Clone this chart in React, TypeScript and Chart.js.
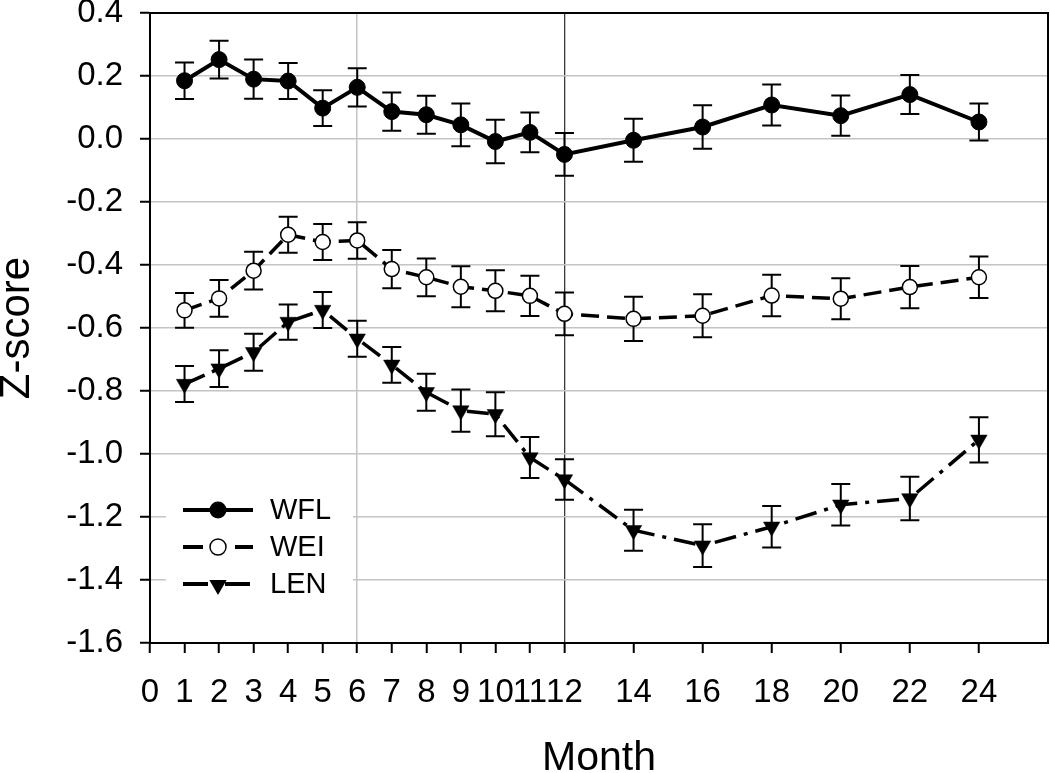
import React, { useEffect, useRef } from "react";
import { Chart, registerables } from "chart.js";

Chart.register(...registerables);

const months = [1, 2, 3, 4, 5, 6, 7, 8, 9, 10, 11, 12, 14, 16, 18, 20, 22, 24];
const xTicks = [0, 1, 2, 3, 4, 5, 6, 7, 8, 9, 10, 11, 12, 14, 16, 18, 20, 22, 24];
const yTicks = [0.4, 0.2, 0.0, -0.2, -0.4, -0.6, -0.8, -1.0, -1.2, -1.4, -1.6];

const wflMean = [0.185, 0.252, 0.19, 0.184, 0.098, 0.164, 0.087, 0.077, 0.045, -0.008, 0.021, -0.049, -0.004, 0.038, 0.108, 0.074, 0.141, 0.054];
const wflErr = [0.058, 0.06, 0.062, 0.057, 0.057, 0.061, 0.061, 0.06, 0.068, 0.069, 0.063, 0.068, 0.068, 0.069, 0.065, 0.064, 0.062, 0.059];
const weiMean = [-0.544, -0.506, -0.418, -0.304, -0.327, -0.322, -0.413, -0.439, -0.469, -0.482, -0.498, -0.555, -0.571, -0.561, -0.497, -0.507, -0.47, -0.439];
const weiErr = [0.055, 0.058, 0.06, 0.057, 0.057, 0.058, 0.061, 0.06, 0.065, 0.065, 0.064, 0.068, 0.07, 0.068, 0.066, 0.065, 0.067, 0.066];
const lenMean = [-0.778, -0.729, -0.677, -0.581, -0.543, -0.634, -0.717, -0.804, -0.862, -0.874, -1.011, -1.081, -1.242, -1.291, -1.231, -1.161, -1.141, -0.955];
const lenErr = [0.057, 0.058, 0.059, 0.056, 0.057, 0.057, 0.057, 0.059, 0.067, 0.07, 0.065, 0.064, 0.065, 0.068, 0.066, 0.066, 0.069, 0.072];

const seriesNames = ["WFL", "WEI", "LEN"];
const seriesMeans = [wflMean, weiMean, lenMean];
const seriesErrs = [wflErr, weiErr, lenErr];

const FONT = "'Liberation Sans', Arial, sans-serif";
const GRID = "#c4c4c4";

const errorBarsPlugin = {
  id: "errorBars",
  beforeDatasetsDraw(chart: any) {
    const { ctx } = chart;
    const x = chart.scales.x;
    const y = chart.scales.y;
    ctx.save();
    ctx.strokeStyle = "#000";
    ctx.lineWidth = 2;
    seriesMeans.forEach((means, i) => {
      const errs = seriesErrs[i];
      months.forEach((m, j) => {
        const px = x.getPixelForValue(m);
        const top = y.getPixelForValue(means[j] + errs[j]);
        const bot = y.getPixelForValue(means[j] - errs[j]);
        ctx.beginPath();
        ctx.moveTo(px, top);
        ctx.lineTo(px, bot);
        ctx.moveTo(px - 9.5, top);
        ctx.lineTo(px + 9.5, top);
        ctx.moveTo(px - 9.5, bot);
        ctx.lineTo(px + 9.5, bot);
        ctx.stroke();
      });
    });
    ctx.restore();
  },
};

function drawMarker(ctx: CanvasRenderingContext2D, kind: number, cx: number, cy: number) {
  ctx.save();
  ctx.strokeStyle = "#000";
  ctx.setLineDash([]);
  if (kind === 0) {
    ctx.fillStyle = "#000";
    ctx.beginPath();
    ctx.arc(cx, cy, 8.5, 0, Math.PI * 2);
    ctx.fill();
  } else if (kind === 1) {
    ctx.fillStyle = "#fff";
    ctx.lineWidth = 1.5;
    ctx.beginPath();
    ctx.arc(cx, cy, 8, 0, Math.PI * 2);
    ctx.fill();
    ctx.stroke();
  } else {
    const r = 10;
    ctx.fillStyle = "#000";
    ctx.beginPath();
    ctx.moveTo(cx, cy + r);
    ctx.lineTo(cx - r * Math.sin(Math.PI / 3), cy - r / 2);
    ctx.lineTo(cx + r * Math.sin(Math.PI / 3), cy - r / 2);
    ctx.closePath();
    ctx.fill();
  }
  ctx.restore();
}

const insideLegendPlugin = {
  id: "insideLegend",
  afterDatasetsDraw(chart: any) {
    const { ctx, chartArea } = chart;
    const L = chartArea.left;
    ctx.save();
    ctx.fillStyle = "#fff";
    ctx.fillRect(L + 16, 484, 187, 122);
    ctx.lineWidth = 4;
    ctx.strokeStyle = "#000";
    ctx.lineCap = "butt";
    const x0 = L + 33;
    const x1 = L + 103;
    const mx = L + 68;
    seriesNames.forEach((name, i) => {
      const cy = 510 + i * 37;
      ctx.beginPath();
      if (i === 0) {
        ctx.moveTo(x0, cy);
        ctx.lineTo(x1, cy);
      } else if (i === 1) {
        ctx.moveTo(x0, cy);
        ctx.lineTo(x0 + 20, cy);
        ctx.moveTo(x1 - 18, cy);
        ctx.lineTo(x1, cy);
      } else {
        ctx.moveTo(x0, cy);
        ctx.lineTo(x0 + 25, cy);
        ctx.moveTo(x1 - 28, cy);
        ctx.lineTo(x1 - 3, cy);
      }
      ctx.stroke();
      drawMarker(ctx, i, mx, cy + (i === 2 ? 1 : 0));
      ctx.fillStyle = "#000";
      ctx.font = `29px ${FONT}`;
      ctx.textBaseline = "middle";
      ctx.textAlign = "left";
      ctx.fillText(name, L + 120, cy + 1);
    });
    ctx.restore();
  },
};

const framePlugin = {
  id: "frame",
  afterDraw(chart: any) {
    const { ctx, chartArea } = chart;
    ctx.save();
    ctx.strokeStyle = "#000";
    ctx.lineWidth = 2;
    ctx.strokeRect(chartArea.left, chartArea.top, chartArea.right - chartArea.left, chartArea.bottom - chartArea.top);
    ctx.restore();
  },
};

export default function App() {
  const canvasRef = useRef<HTMLCanvasElement | null>(null);

  useEffect(() => {
    if (!canvasRef.current) return;
    const toPts = (arr: number[]) => months.map((m, i) => ({ x: m, y: arr[i] }));
    const chart = new Chart(canvasRef.current, {
      type: "line",
      data: {
        datasets: [
          {
            label: seriesNames[0],
            data: toPts(wflMean),
            borderColor: "#000",
            borderWidth: 4,
            pointStyle: "circle",
            pointRadius: 8,
            pointBorderWidth: 1,
            pointBackgroundColor: "#000",
            pointBorderColor: "#000",
            tension: 0,
          },
          {
            label: seriesNames[1],
            data: toPts(weiMean),
            borderColor: "#000",
            borderWidth: 3.5,
            borderDash: [18, 8],
            pointStyle: "circle",
            pointRadius: 7.5,
            pointBorderWidth: 1.5,
            pointBackgroundColor: "#fff",
            pointBorderColor: "#000",
            tension: 0,
          },
          {
            label: seriesNames[2],
            data: toPts(lenMean),
            borderColor: "#000",
            borderWidth: 3.5,
            borderDash: [22, 8, 4, 8],
            pointStyle: "triangle",
            rotation: 180,
            pointRotation: 180,
            pointRadius: 9.5,
            pointBorderWidth: 0.5,
            pointBackgroundColor: "#000",
            pointBorderColor: "#000",
            tension: 0,
          },
        ],
      },
      options: {
        animation: false,
        responsive: false,
        maintainAspectRatio: false,
        layout: { autoPadding: false, padding: { left: 0, right: 2, top: 13, bottom: 0 } },
        plugins: {
          legend: { display: false },
          tooltip: { enabled: false },
        },
        scales: {
          x: {
            type: "linear",
            min: 0,
            max: 26,
            afterBuildTicks: (s: any) => {
              s.ticks = xTicks.map((v) => ({ value: v }));
            },
            afterFit: (s: any) => {
              s.height = 130;
              s.paddingLeft = 0;
              s.paddingRight = 0;
            },
            ticks: {
              autoSkip: false,
              maxRotation: 0,
              color: "#000",
              font: { family: FONT, size: 33 },
              padding: 20,
              callback: (v: any) => String(v),
            },
            grid: {
              drawOnChartArea: true,
              color: (c: any) =>
                c.tick && c.tick.value === 6 ? GRID : c.tick && c.tick.value === 12 ? "#3a3a3a" : "rgba(0,0,0,0)",
              lineWidth: (c: any) => (c.tick && c.tick.value === 12 ? 1.3 : 1.5),
              tickColor: "#000",
              tickWidth: 2,
              tickLength: 10,
            },
            border: { display: true, color: "#000", width: 2 },
            title: {
              display: true,
              text: "Month",
              color: "#000",
              font: { family: FONT, size: 41, lineHeight: 1 },
              padding: { top: 0, bottom: -6 },
            },
          },
          y: {
            type: "linear",
            min: -1.6,
            max: 0.4,
            afterBuildTicks: (s: any) => {
              s.ticks = yTicks.map((v) => ({ value: v }));
            },
            afterFit: (s: any) => {
              s.width = 150;
              s.paddingTop = 0;
              s.paddingBottom = 0;
            },
            ticks: {
              autoSkip: false,
              color: "#000",
              font: { family: FONT, size: 33 },
              padding: 17,
              callback: (v: any) => (Math.abs(v) < 1e-9 ? "0.0" : Number(v).toFixed(1)),
            },
            grid: {
              color: GRID,
              lineWidth: 1.5,
              tickColor: "#000",
              tickWidth: 2,
              tickLength: 10,
            },
            border: { display: true, color: "#000", width: 2 },
            title: {
              display: true,
              text: "Z-score",
              color: "#000",
              font: { family: FONT, size: 42, lineHeight: 1 },
              padding: { top: -4, bottom: 0 },
            },
          },
        },
      },
      plugins: [errorBarsPlugin, insideLegendPlugin, framePlugin],
    } as any);
    return () => chart.destroy();
  }, []);

  return (
    <div style={{ position: "absolute", left: 0, top: 0, width: 1050, height: 773, background: "#fff" }}>
      <canvas ref={canvasRef} width={1050} height={773} style={{ display: "block" }} />
    </div>
  );
}
